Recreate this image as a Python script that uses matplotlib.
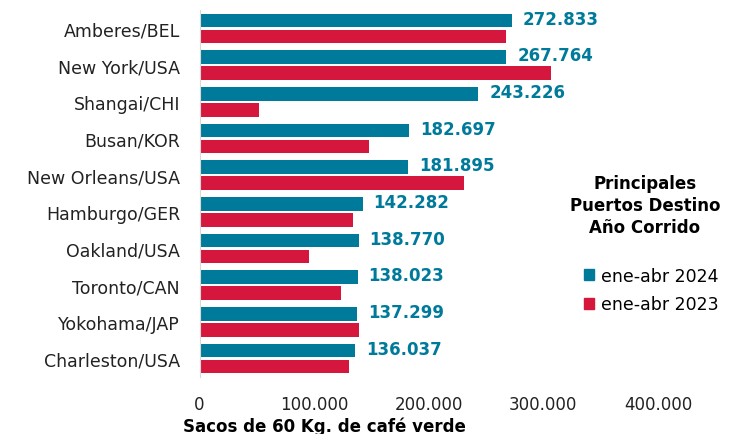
import matplotlib
matplotlib.use('Agg')
import matplotlib.pyplot as plt
from matplotlib.patches import Patch
import numpy as np

puertos = ['Amberes/BEL', 'New York/USA', 'Shangai/CHI', 'Busan/KOR', 'New Orleans/USA',
           'Hamburgo/GER', 'Oakland/USA', 'Toronto/CAN', 'Yokohama/JAP', 'Charleston/USA']
sacos_2024 = [272833, 267764, 243226, 182697, 181895, 142282, 138770, 138023, 137299, 136037]
sacos_2023 = [267000, 306700, 52000, 147600, 230600, 134200, 95700, 123400, 139100, 130700]
xticks = [0, 100000, 200000, 300000, 400000]

TEAL = '#007A9B'
ROJO = '#D5173D'

plt.rcParams['font.family'] = ['DejaVu Sans']

def miles(v):
    return f'{v:,}'.replace(',', '.')

fig = plt.figure(figsize=(7.3, 4.35), dpi=100)
ax = fig.add_axes([199.5 / 730, 1 - 378 / 435, (658 - 199.5) / 730, (378 - 11) / 435])

y = np.arange(len(puertos))
h = 0.37
off = 0.218
ax.barh(y - off, sacos_2024, height=h, color=TEAL)
ax.barh(y + off, sacos_2023, height=h, color=ROJO)

for yi, v in zip(y, sacos_2024):
    ax.text(v + 9500, yi - off - 0.05, miles(v), va='center', ha='left',
            color=TEAL, fontsize=12, fontweight='bold')

ax.set_ylim(len(puertos) - 0.5, -0.5)
ax.set_xlim(0, 400000)
ax.set_yticks(y)
ax.set_yticklabels(puertos, fontsize=12.5, color='#222222')
ax.set_xticks(xticks)
ax.set_xticklabels([miles(t) for t in xticks], fontsize=12, color='#222222')
ax.tick_params(length=0)
ax.tick_params(axis='y', pad=14)
ax.tick_params(axis='x', pad=13)
for s in ['top', 'right', 'bottom']:
    ax.spines[s].set_visible(False)
ax.spines['left'].set_color('#D9D9D9')
ax.set_xlabel('Sacos de 60 Kg. de café verde', fontsize=12, fontweight='bold')
ax.xaxis.set_label_coords(-0.036, -0.134)
ax.xaxis.label.set_ha('left')
ax.xaxis.label.set_va('center')

fig.text(645 / 730, 1 - 206 / 435, 'Principales\nPuertos Destino\nAño Corrido',
         ha='center', va='center', fontsize=12, fontweight='bold',
         linespacing=1.3)
handles = [Patch(color=TEAL, label='ene-abr 2024'), Patch(color=ROJO, label='ene-abr 2023')]
fig.legend(handles=handles, loc='center left', bbox_to_anchor=(568 / 730, 1 - 291 / 435),
           frameon=False, fontsize=12.5, handlelength=0.6, handleheight=0.6,
           handletextpad=0.4, labelspacing=0.6)

fig.savefig('out.png', dpi=100)
